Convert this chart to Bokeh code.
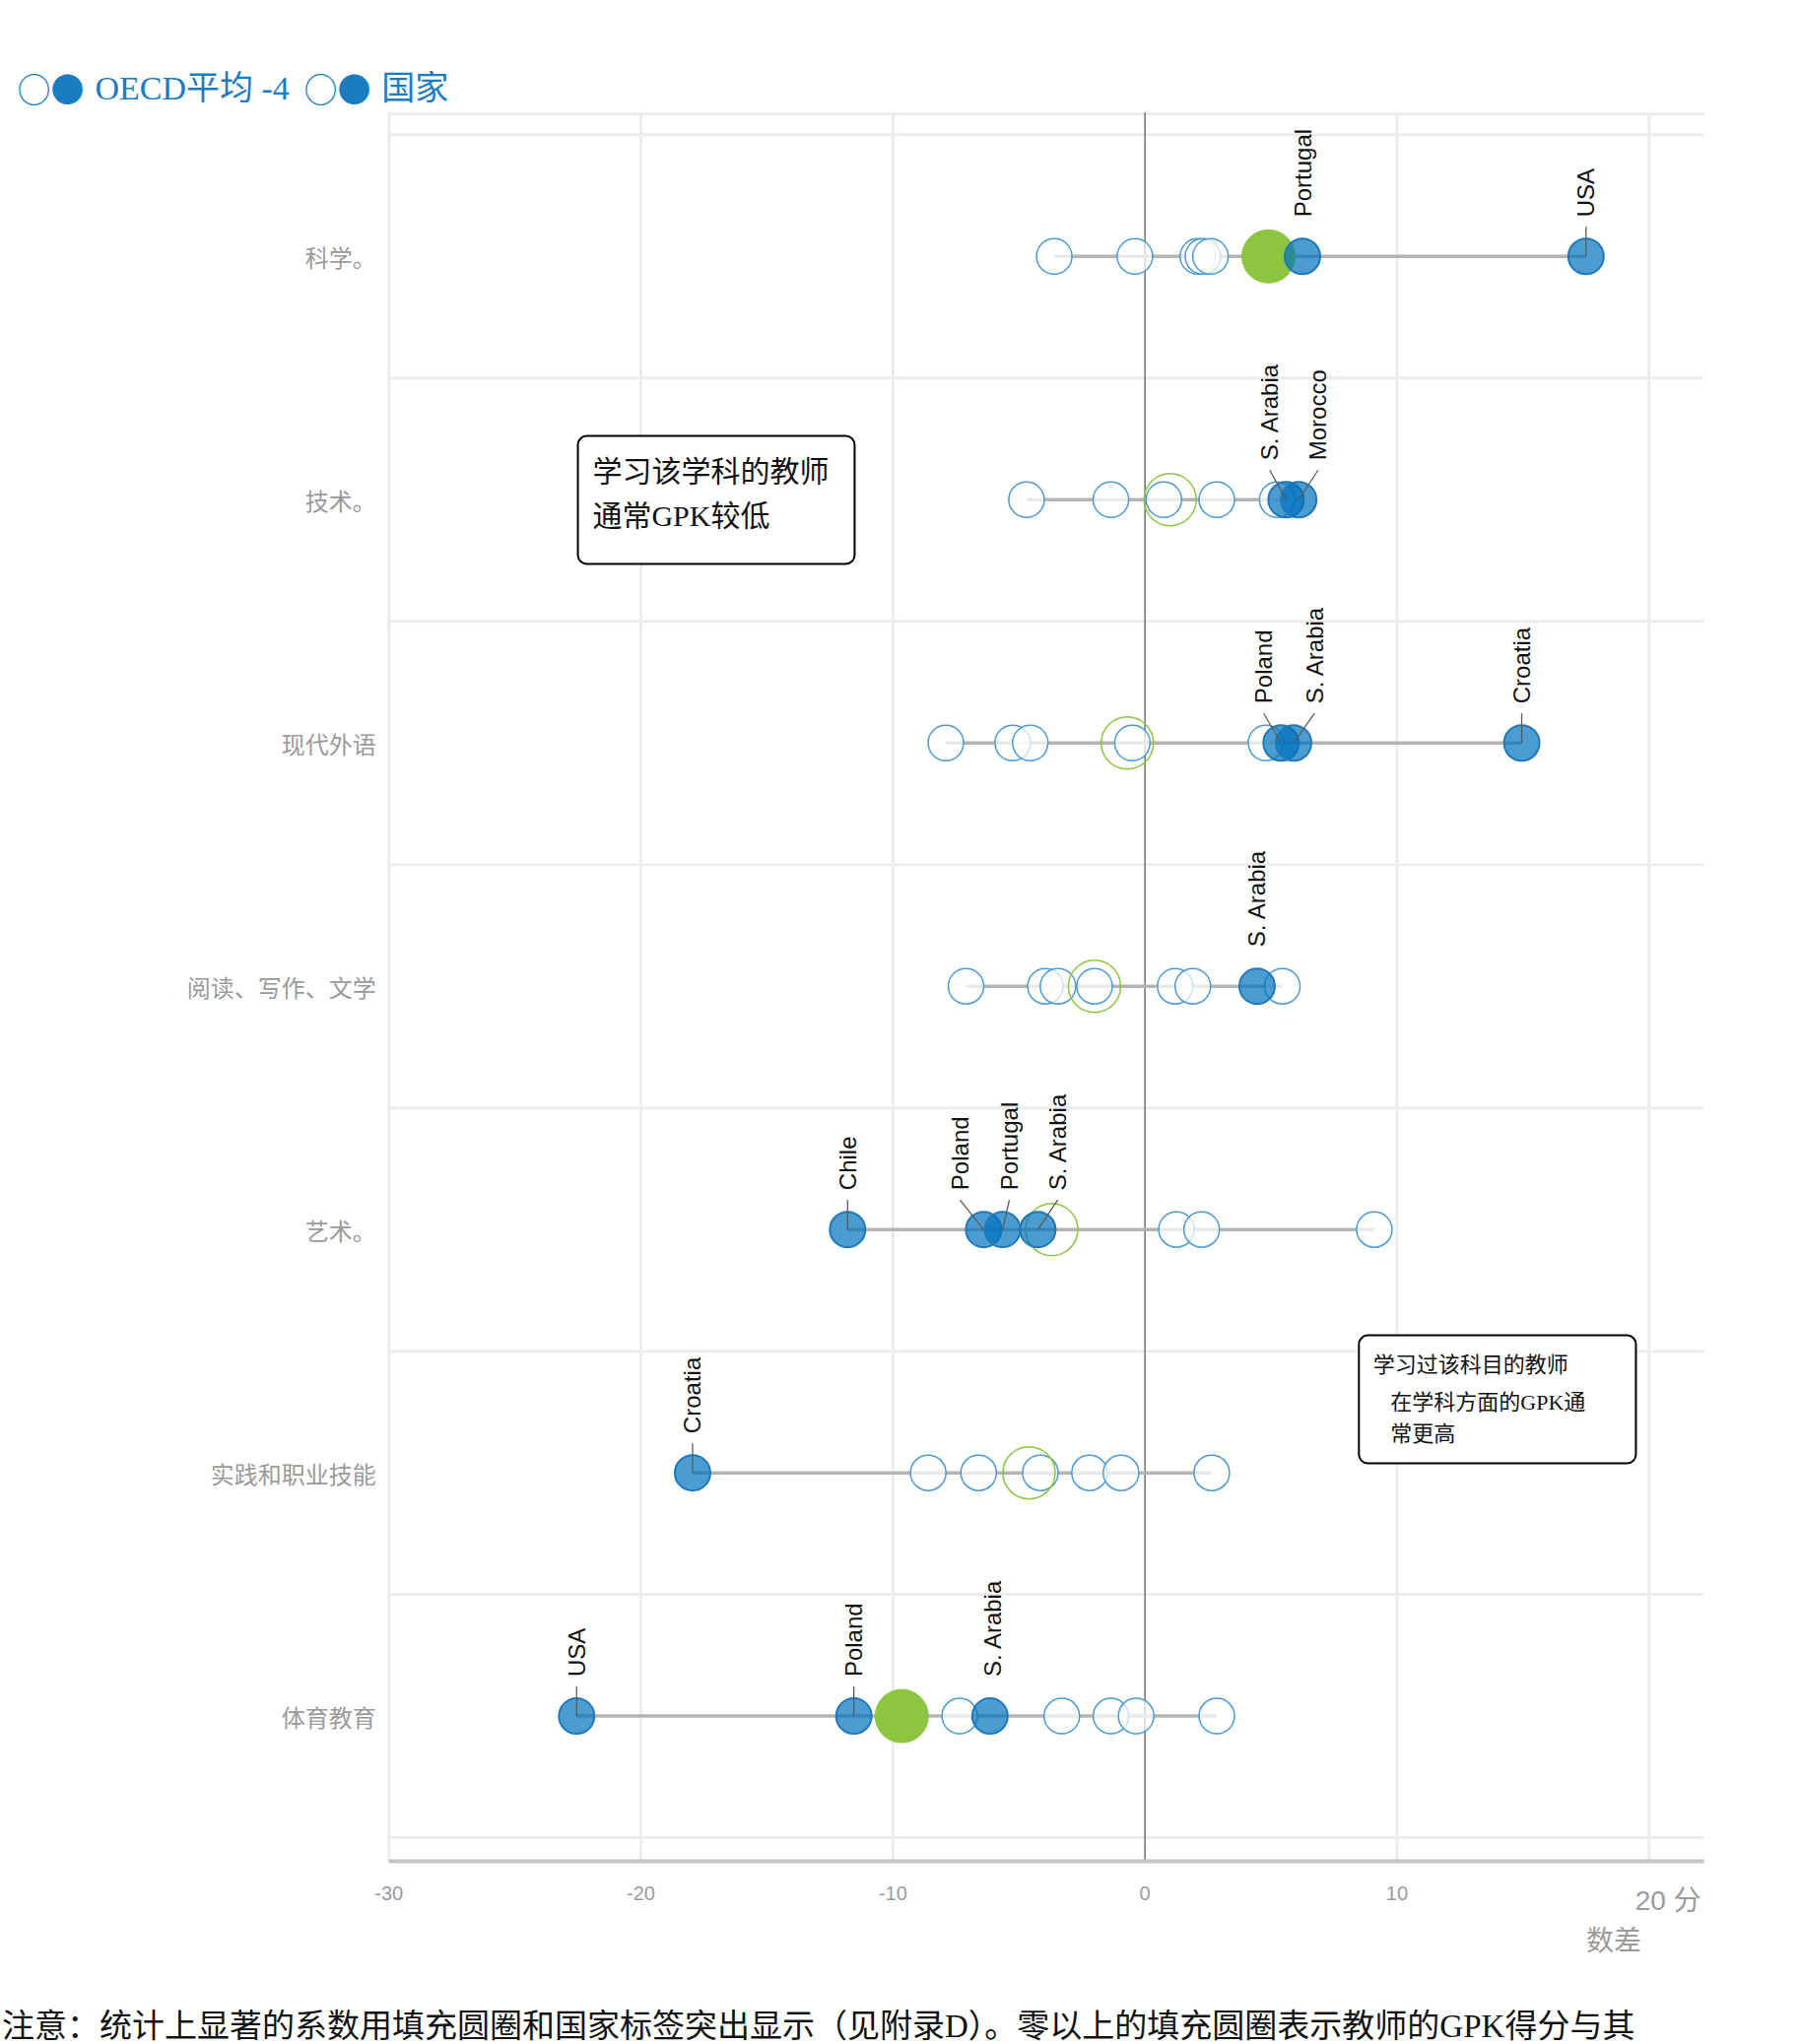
import math

from bokeh.core.properties import value
from bokeh.embed import file_html
from bokeh.models import BoxAnnotation, ColumnDataSource, FixedTicker, Label, Range1d
from bokeh.plotting import figure
from bokeh.resources import INLINE

# ---------------------------------------------------------------- data
subjects = ["科学。", "技术。", "现代外语", "阅读、写作、文学", "艺术。", "实践和职业技能", "体育教育"]

# countries whose coefficient is not significant (open circles)
other_values = [
    [-3.6, -0.4, 2.1, 2.3, 2.6],
    [-4.7, -1.35, 0.75, 2.85, 5.25],
    [-7.9, -5.25, -4.55, -0.5, 4.8],
    [-7.1, -3.95, -3.45, -2.0, 1.2, 1.9, 5.45],
    [1.25, 2.25, 9.1],
    [-8.6, -6.6, -4.15, -2.2, -0.95, 2.65],
    [-7.35, -3.3, -1.35, -0.35, 2.85],
]

# countries with a significant coefficient (filled circles + labels)
sig_names = [
    ["Portugal", "USA"],
    ["S. Arabia", "Morocco"],
    ["Poland", "S. Arabia", "Croatia"],
    ["S. Arabia"],
    ["Chile", "Poland", "Portugal", "S. Arabia"],
    ["Croatia"],
    ["USA", "Poland", "S. Arabia"],
]
sig_values = [
    [6.25, 17.5],
    [5.6, 6.1],
    [5.4, 5.9, 14.95],
    [4.45],
    [-11.8, -6.4, -5.65, -4.25],
    [-17.95],
    [-22.55, -11.55, -6.15],
]

oecd_avg = [4.9, 1.0, -0.7, -2.0, -3.7, -4.6, -9.65]
oecd_sig = [True, False, False, False, False, False, True]

x_ticks = [-30, -20, -10, 0, 10]
x_tick_labels = ["-30", "-20", "-10", "0", "10"]
x_last_tick = "20 分"
x_unit = "数差"

legend_marks = "○●"
legend_items = ["OECD平均 -4", "国家"]
note_low = ["学习该学科的教师", "通常GPK较低"]
note_high = ["学习过该科目的教师", "在学科方面的GPK通", "常更高"]
footnote = "注意：统计上显著的系数用填充圆圈和国家标签突出显示（见附录D）。零以上的填充圆圈表示教师的GPK得分与其"

# ---------------------------------------------------------------- layout helpers
X_MIN, X_MAX = -30, 22.17          # extent of the plotting area
Y_TOP, Y_BOT = -0.591, 6.596
ROW_PX = 246.97                    # pixels per category row
LABEL_GAP = 40 / ROW_PX            # circle centre -> start of a country label
LEADER_GAP = 10 / ROW_PX

# sideways nudges for labels that would otherwise collide
label_shift = {
    (1, "S. Arabia"): -0.65, (1, "Morocco"): 0.77,
    (2, "Poland"): -0.69, (2, "S. Arabia"): 0.83,
    (4, "Poland"): -0.94, (4, "Portugal"): 0.27, (4, "S. Arabia"): 0.79,
    (6, "S. Arabia"): 0.1,
}
no_leader = {(0, "Portugal"), (3, "S. Arabia"), (6, "S. Arabia")}

SERIF = "Liberation Serif, Noto Sans CJK SC"
CJK = "Noto Sans CJK SC"
NARROW = "Liberation Sans Narrow, Liberation Sans, Noto Sans CJK SC"
GRID = "#ececec"
BLUE_TEXT = "#1a7cc1"

# ---------------------------------------------------------------- figure
# the frame covers the whole canvas; axes are pinned to the plotting area
p = figure(
    width=1828, height=2075,
    x_range=Range1d(-45.41, 26.05), y_range=Range1d(7.350, -1.0519),
    min_border=0, output_backend="svg", toolbar_location=None,
)
p.title.visible = False
p.outline_line_color = None
p.background_fill_color = "white"
p.border_fill_color = "white"
p.xgrid.visible = False
p.ygrid.visible = False

xa = p.xaxis[0]
xa.fixed_location = Y_BOT
xa.bounds = (X_MIN, X_MAX)
xa.ticker = FixedTicker(ticks=x_ticks)
xa.major_label_overrides = dict(zip(x_ticks, x_tick_labels))
xa.axis_line_color = "#c3c3c3"
xa.axis_line_width = 4
xa.major_tick_line_color = None
xa.minor_tick_line_color = None
xa.major_label_standoff = 20
xa.major_label_text_font = NARROW
xa.major_label_text_font_size = "20px"
xa.major_label_text_color = "#9a9a9a"

ya = p.yaxis[0]
ya.fixed_location = X_MIN
ya.bounds = (Y_TOP, Y_BOT)
ya.ticker = FixedTicker(ticks=list(range(len(subjects))))
ya.major_label_overrides = {i: s for i, s in enumerate(subjects)}
ya.axis_line_color = None
ya.major_tick_line_color = None
ya.minor_tick_line_color = None
ya.major_label_standoff = 7
ya.major_label_text_font = CJK
ya.major_label_text_font_size = "24px"
ya.major_label_text_color = "#9a9a9a"

# ---------------------------------------------------------------- grid
vx = [-30, -20, -10, 10, 20]
p.segment(x0=vx, y0=[Y_TOP] * len(vx), x1=vx, y1=[Y_BOT] * len(vx),
          line_color=GRID, line_width=3)
hy = [Y_TOP + 0.006] + [i - 0.5 for i in range(len(subjects) + 1)]
p.segment(x0=[X_MIN] * len(hy), y0=hy, x1=[X_MAX] * len(hy), y1=hy,
          line_color=GRID, line_width=3)
p.segment(x0=[0], y0=[Y_TOP], x1=[0], y1=[Y_BOT], line_color="#707070", line_width=1.5)

# ---------------------------------------------------------------- range lines
rng = {"x0": [], "x1": [], "y": []}
for i in range(len(subjects)):
    vals = other_values[i] + sig_values[i] + [oecd_avg[i]]
    rng["x0"].append(min(vals))
    rng["x1"].append(max(vals))
    rng["y"].append(i)
p.segment(x0="x0", y0="y", x1="x1", y1="y", source=ColumnDataSource(rng),
          line_color="#b4b4b4", line_width=3.5)

# ---------------------------------------------------------------- open circles
ox, oy = [], []
for i, vals in enumerate(other_values):
    ox += vals
    oy += [i] * len(vals)
p.scatter(ox, oy, size=36, fill_color="white", fill_alpha=0.7,
          line_color="#4a9bd4", line_width=1.5)

# ---------------------------------------------------------------- OECD average
fx = [v for v, s in zip(oecd_avg, oecd_sig) if s]
fy = [i for i, s in enumerate(oecd_sig) if s]
rx = [v for v, s in zip(oecd_avg, oecd_sig) if not s]
ry = [i for i, s in enumerate(oecd_sig) if not s]
p.scatter(fx, fy, size=54, fill_color="#8cc63f", line_color="#8cc63f", line_width=1)
p.scatter(rx, ry, size=53, fill_alpha=0, line_color="#8cc63f", line_width=1.5)

# ---------------------------------------------------------------- significant countries
sx, sy, lx, ly, names = [], [], [], [], []
lead = {"x0": [], "y0": [], "x1": [], "y1": []}
for i, (nm, vals) in enumerate(zip(sig_names, sig_values)):
    for n, v in zip(nm, vals):
        sx.append(v)
        sy.append(i)
        tx = v + label_shift.get((i, n), 0.0)
        lx.append(tx)
        ly.append(i - LABEL_GAP)
        names.append(n)
        if (i, n) not in no_leader:
            lead["x0"].append(tx)
            lead["y0"].append(i - LABEL_GAP + LEADER_GAP)
            lead["x1"].append(v)
            lead["y1"].append(i)

p.scatter(sx, sy, size=36, fill_color="#0072bc", fill_alpha=0.7,
          line_color="#1f78b8", line_width=2)
p.segment(x0="x0", y0="y0", x1="x1", y1="y1", source=ColumnDataSource(lead),
          line_color="#5a5a5a", line_width=1.3)
p.text(x=lx, y=ly, text=names, angle=math.pi / 2,
       text_font=value("Liberation Sans"), text_font_size="24px", text_color="#111111",
       text_align="left", text_baseline="middle")

# ---------------------------------------------------------------- callout boxes
p.add_layout(BoxAnnotation(left=-22.5, right=-11.52, top=0.738, bottom=1.264,
                           fill_color="white", fill_alpha=1.0, line_color="black",
                           line_alpha=1.0, line_width=2, border_radius=9))
for t, yy in zip(note_low, [0.884, 1.066]):
    p.add_layout(Label(x=-21.92, y=yy, text=t, text_font=SERIF, text_font_size="30px",
                       text_color="#111111", text_align="left", text_baseline="middle"))

p.add_layout(BoxAnnotation(left=8.49, right=19.48, top=4.435, bottom=4.961,
                           fill_color="white", fill_alpha=1.0, line_color="black",
                           line_alpha=1.0, line_width=2, border_radius=9))
for t, xx, yy in zip(note_high, [9.05, 9.74, 9.74], [4.556, 4.71, 4.84]):
    p.add_layout(Label(x=xx, y=yy, text=t, text_font=SERIF, text_font_size="22px",
                       text_color="#111111", text_align="left", text_baseline="middle"))

# ---------------------------------------------------------------- legend line at the top
TITLE_Y = -0.6915
for mx in [-44.75, -33.37]:
    p.add_layout(Label(x=mx, y=TITLE_Y, text=legend_marks, text_font=CJK,
                       text_font_size="34px", text_color=BLUE_TEXT,
                       text_align="left", text_baseline="middle"))
for t, tx in zip(legend_items, [-41.66, -30.29]):
    p.add_layout(Label(x=tx, y=TITLE_Y, text=t, text_font=SERIF,
                       text_font_size="34px", text_color=BLUE_TEXT,
                       text_align="left", text_baseline="middle"))

# ---------------------------------------------------------------- axis unit and footnote
p.add_layout(Label(x=19.45, y=6.759, text=x_last_tick, text_font=NARROW,
                   text_font_size="28px", text_color="#9a9a9a",
                   text_align="left", text_baseline="middle"))
p.add_layout(Label(x=17.51, y=6.925, text=x_unit, text_font=NARROW,
                   text_font_size="28px", text_color="#9a9a9a",
                   text_align="left", text_baseline="middle"))
p.add_layout(Label(x=-45.35, y=7.2042, text=footnote, text_font=SERIF,
                   text_font_size="33px", text_color="#111111",
                   text_align="left", text_baseline="top"))

open("out.html", "w").write(file_html(p, INLINE))
